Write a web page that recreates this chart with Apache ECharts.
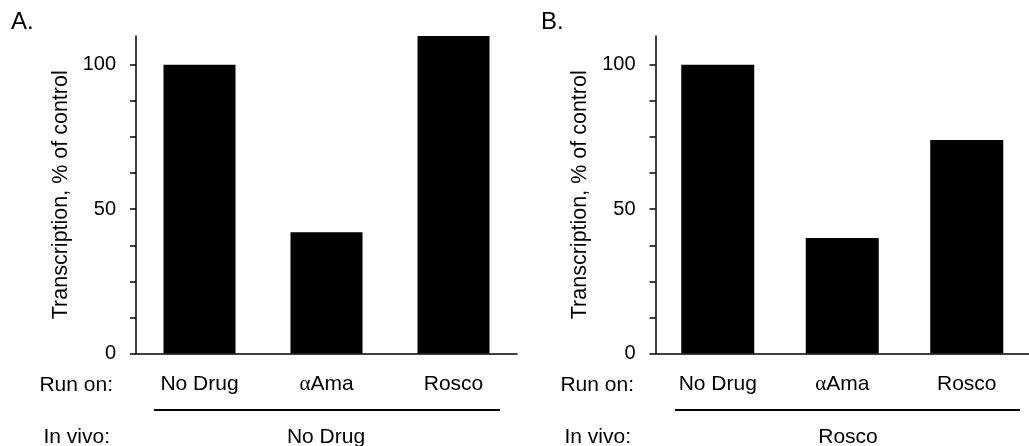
<!DOCTYPE html>
<html>
<head>
<meta charset="utf-8">
<script src="https://cdn.jsdelivr.net/npm/echarts@6/dist/echarts.min.js"></script>
<style>
html,body{margin:0;padding:0;background:#fff;}
#c{width:1029px;height:446px;}
</style>
</head>
<body>
<div id="c"></div>
<script>
const categories = ['No Drug', 'αAma', 'Rosco'];
const valuesA = [100, 42, 110];
const valuesB = [100, 40, 74];
const tickValues = [0, 12.5, 25, 37.5, 50, 62.5, 75, 87.5, 100];
const labelValues = [0, 50, 100];
const panelTitles = ['A.', 'B.'];
const inVivoLabels = ['No Drug', 'Rosco'];
const yTitle = 'Transcription, % of control';

const FONT = '"Liberation Sans", Arial, sans-serif';
const chart = echarts.init(document.getElementById('c'), null, {renderer: 'canvas'});

function yAxis(gridIndex) {
  return {
    type: 'value', gridIndex, min: 0, max: 110,
    axisLine: {show: true, lineStyle: {color: '#000', width: 1.5}},
    axisTick: {show: true, inside: false, length: 6, customValues: tickValues, lineStyle: {color: '#000', width: 1.5}},
    axisLabel: {customValues: labelValues, margin: 20, color: '#000', fontSize: 20, fontFamily: FONT},
    splitLine: {show: false},
    name: yTitle, nameLocation: 'middle', nameGap: 64, nameRotate: 90,
    nameTextStyle: {color: '#000', fontSize: 21.5, fontFamily: FONT}
  };
}
function xAxis(gridIndex) {
  return {
    type: 'category', gridIndex, data: categories,
    axisLine: {show: true, lineStyle: {color: '#000', width: 1.5}},
    axisTick: {show: false},
    axisLabel: {
      margin: 20, color: '#000', fontSize: 21, fontFamily: FONT,
      formatter: v => v.startsWith('α') ? '{g|α}' + v.slice(1) : v,
      rich: {g: {fontFamily: '"Liberation Serif", "Times New Roman", serif', fontSize: 21, color: '#000'}}
    }
  };
}

const texts = [];
const lines = [];
// panel titles
texts.push({type: 'text', left: 11, top: 10, style: {text: panelTitles[0], font: '24px ' + FONT, fill: '#000'}});
texts.push({type: 'text', left: 541, top: 10, style: {text: panelTitles[1], font: '24px ' + FONT, fill: '#000'}});
// row labels
[{x: 113}, {x: 634}].forEach((p) => {
  texts.push({type: 'text', x: p.x, y: 385, style: {text: 'Run on:', font: '21px ' + FONT, fill: '#000', align: 'right', verticalAlign: 'middle'}});
  texts.push({type: 'text', x: p.x - 3, y: 437, style: {text: 'In vivo:', font: '21px ' + FONT, fill: '#000', align: 'right', verticalAlign: 'middle'}});
});
// in vivo labels
texts.push({type: 'text', x: 326, y: 437, style: {text: inVivoLabels[0], font: '21px ' + FONT, fill: '#000', align: 'center', verticalAlign: 'middle'}});
texts.push({type: 'text', x: 848, y: 437, style: {text: inVivoLabels[1], font: '21px ' + FONT, fill: '#000', align: 'center', verticalAlign: 'middle'}});
// bracket lines
lines.push({type: 'line', shape: {x1: 154, y1: 410, x2: 500, y2: 410}, style: {stroke: '#000', lineWidth: 2}});
lines.push({type: 'line', shape: {x1: 675, y1: 410, x2: 1020, y2: 410}, style: {stroke: '#000', lineWidth: 2}});

chart.setOption({
  animation: false,
  backgroundColor: '#fff',
  grid: [
    {left: 136, right: 512, top: 36, bottom: 92.5},
    {left: 655.5, right: -10, top: 36, bottom: 92.5}
  ],
  xAxis: [xAxis(0), xAxis(1)],
  yAxis: [yAxis(0), yAxis(1)],
  series: [
    {type: 'bar', xAxisIndex: 0, yAxisIndex: 0, data: valuesA, barWidth: 72, itemStyle: {color: '#000'}},
    {type: 'bar', xAxisIndex: 1, yAxisIndex: 1, data: valuesB, barWidth: 73, itemStyle: {color: '#000'}}
  ],
  graphic: texts.concat(lines)
});
</script>
</body>
</html>
